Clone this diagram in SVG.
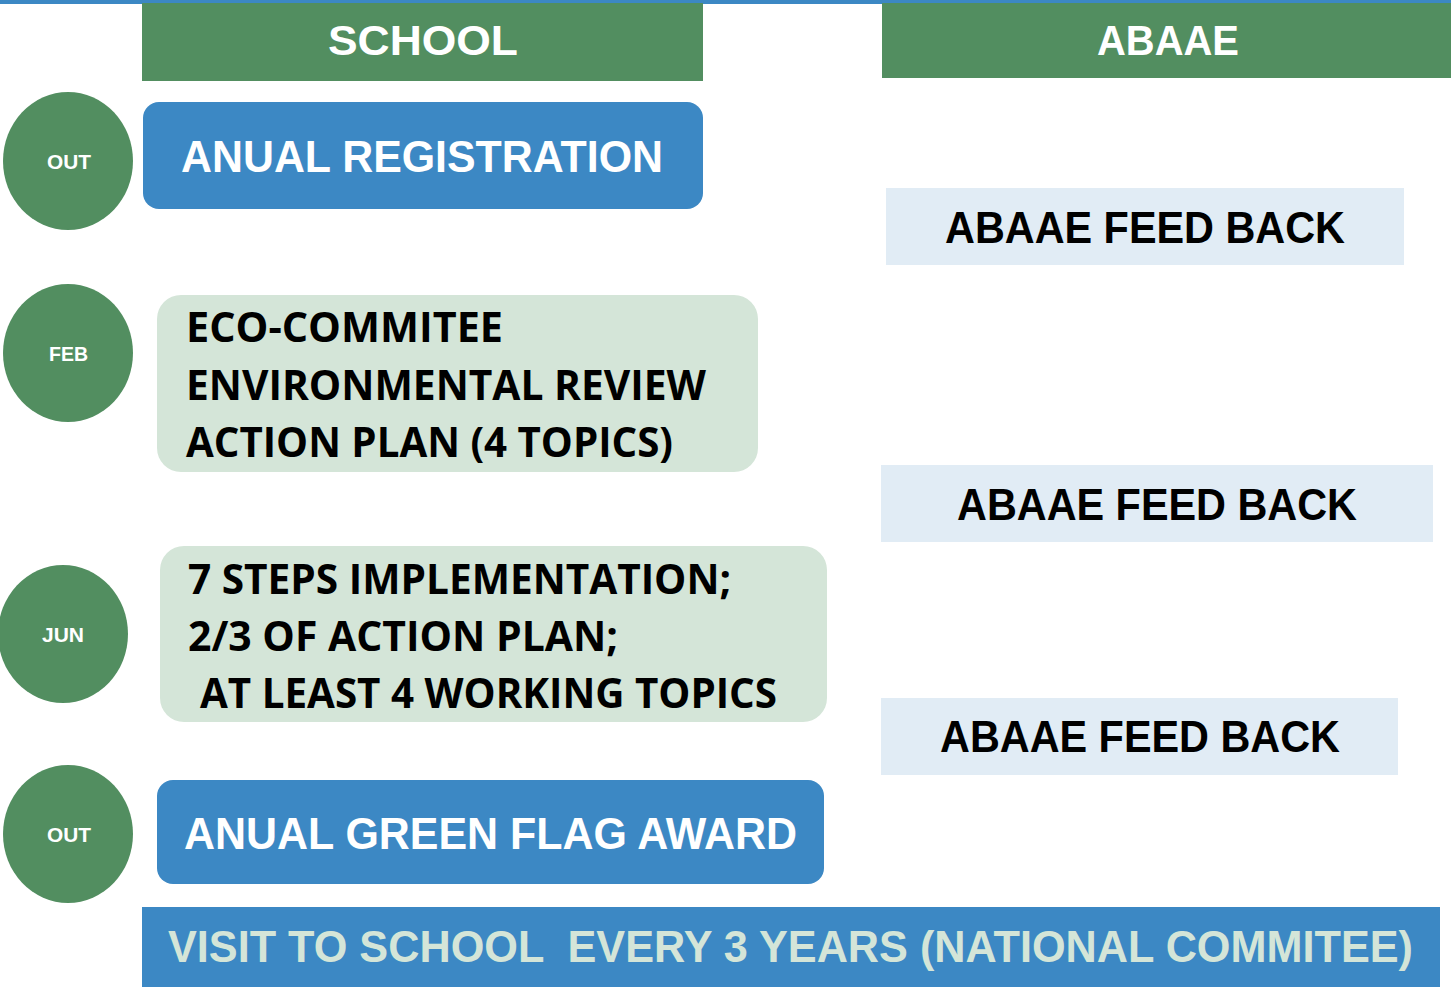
<svg xmlns="http://www.w3.org/2000/svg" width="1451" height="987" viewBox="0 0 1451 987">
<style>
.hdr{fill:#528e60}
.circ{fill:#528e60}
.blue{fill:#3c88c4}
.lg{fill:#d4e5d8}
.fb{fill:#e1ecf5}
.wt{font-family:"Liberation Sans",Arial,sans-serif;font-weight:bold;fill:#ffffff}
.ct{font-family:"Liberation Sans",Arial,sans-serif;font-weight:bold;fill:#ffffff;font-size:21px}
.bk{font-family:"Open Sans","Liberation Sans",sans-serif;font-weight:bold;fill:#000000}
.fbt{font-family:"Liberation Sans",Arial,sans-serif;font-weight:bold;fill:#000000;font-size:45px}
.vt{font-family:"Liberation Sans",Arial,sans-serif;font-weight:bold;fill:#d4e5d8;font-size:44px;white-space:pre}
</style>
<rect x="0" y="0" width="1451" height="987" fill="#ffffff"/>
<rect x="0" y="0" width="1451" height="4" class="blue"/>
<g id="hdr-school"><rect x="142" y="3" width="561" height="78" class="hdr"/><text x="328" y="55" class="wt" font-size="43" textLength="190" lengthAdjust="spacingAndGlyphs">SCHOOL</text></g>
<g id="hdr-abaae"><rect x="882" y="3" width="569" height="75" class="hdr"/><text x="1097" y="55" class="wt" font-size="43" textLength="142" lengthAdjust="spacingAndGlyphs">ABAAE</text></g>
<g id="c-out1"><ellipse cx="68" cy="161" rx="65" ry="69" class="circ"/><text x="47" y="169" class="ct" textLength="44" lengthAdjust="spacingAndGlyphs">OUT</text></g>
<g id="c-feb"><ellipse cx="68" cy="353" rx="65" ry="69" class="circ"/><text x="49" y="361" class="ct" textLength="39" lengthAdjust="spacingAndGlyphs">FEB</text></g>
<g id="c-jun"><ellipse cx="63" cy="634" rx="65" ry="69" class="circ"/><text x="42" y="642" class="ct" textLength="42" lengthAdjust="spacingAndGlyphs">JUN</text></g>
<g id="c-out2"><ellipse cx="68" cy="834" rx="65" ry="69" class="circ"/><text x="47" y="842" class="ct" textLength="44" lengthAdjust="spacingAndGlyphs">OUT</text></g>
<g id="n-registration"><rect x="143" y="102" width="560" height="107" rx="16" class="blue"/><text x="181" y="172" class="wt" font-size="45" textLength="482" lengthAdjust="spacingAndGlyphs">ANUAL REGISTRATION</text></g>
<g id="n-eco"><rect x="157" y="295" width="601" height="177" rx="24" class="lg"/>
<text x="186" y="342" class="bk" font-size="41" textLength="317" lengthAdjust="spacingAndGlyphs">ECO-COMMITEE</text>
<text x="186" y="400" class="bk" font-size="41" textLength="520" lengthAdjust="spacingAndGlyphs">ENVIRONMENTAL REVIEW</text>
<text x="186" y="457" class="bk" font-size="41" textLength="487" lengthAdjust="spacingAndGlyphs">ACTION PLAN (4 TOPICS)</text></g>
<g id="n-steps"><rect x="160" y="546" width="667" height="176" rx="24" class="lg"/>
<text x="188" y="594" class="bk" font-size="41" textLength="543" lengthAdjust="spacingAndGlyphs">7 STEPS IMPLEMENTATION;</text>
<text x="188" y="651" class="bk" font-size="41" textLength="430" lengthAdjust="spacingAndGlyphs">2/3 OF ACTION PLAN;</text>
<text x="200" y="708" class="bk" font-size="41" textLength="577" lengthAdjust="spacingAndGlyphs">AT LEAST 4 WORKING TOPICS</text></g>
<g id="n-award"><rect x="157" y="780" width="667" height="104" rx="16" class="blue"/><text x="184" y="849" class="wt" font-size="45" textLength="613" lengthAdjust="spacingAndGlyphs">ANUAL GREEN FLAG AWARD</text></g>
<g id="n-visit"><rect x="142" y="907" width="1298" height="80" class="blue"/><text x="168" y="962" class="vt" xml:space="preserve" textLength="1245" lengthAdjust="spacingAndGlyphs">VISIT TO SCHOOL  EVERY 3 YEARS (NATIONAL COMMITEE)</text></g>
<g id="n-fb1"><rect x="886" y="188" width="518" height="77" class="fb"/><text x="945" y="243" class="fbt" textLength="400" lengthAdjust="spacingAndGlyphs">ABAAE FEED BACK</text></g>
<g id="n-fb2"><rect x="881" y="465" width="552" height="77" class="fb"/><text x="957" y="520" class="fbt" textLength="400" lengthAdjust="spacingAndGlyphs">ABAAE FEED BACK</text></g>
<g id="n-fb3"><rect x="881" y="698" width="517" height="77" class="fb"/><text x="940" y="752" class="fbt" textLength="400" lengthAdjust="spacingAndGlyphs">ABAAE FEED BACK</text></g>
<g id="connectors"></g>
</svg>
